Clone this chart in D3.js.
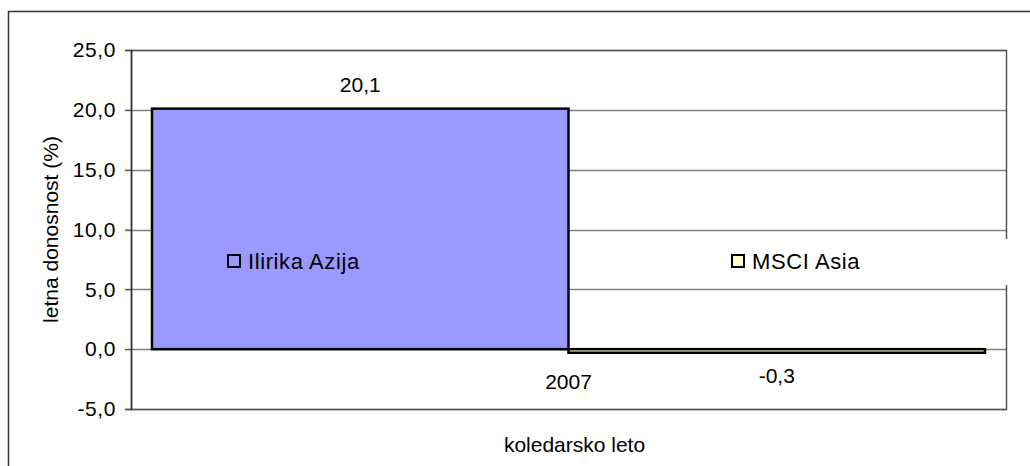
<!DOCTYPE html>
<html>
<head>
<meta charset="utf-8">
<script src="https://cdn.jsdelivr.net/npm/d3@7"></script>
<style>
  body { margin: 0; background: #fff; }
  text { font-family: "Liberation Sans", Arial, sans-serif; fill: #000; }
</style>
</head>
<body>
<svg id="chart" width="1030" height="466"></svg>
<script>
// data
const categories = ["2007"];
const seriesNames = ["Ilirika Azija", "MSCI Asia"];
const seriesValues = [20.1, -0.3];
const seriesColors = ["#9999ff", "#ffffcc"];
const yTicks = [-5, 0, 5, 10, 15, 20, 25];

let svg = d3.select("svg#chart");
let width = +svg.attr("width");
let height = +svg.attr("height");

// plot area
let plotLeft = 131, plotRight = 1006, plotTop = 50, plotBottom = 409;
let fontSize = 21;

let fmt = d => d3.format(".1f")(d).replace(".", ",").replace("−", "-");

// outer frame (cropped on right and bottom)
svg.append("path")
  .attr("d", `M8.5,${height} L8.5,11.5 L${width},11.5`)
  .attr("fill", "none")
  .attr("stroke", "#333")
  .attr("stroke-width", 1.5);

let y = d3.scaleLinear().domain([-5, 25]).range([plotBottom, plotTop]);

let x0 = d3.scaleBand()
  .domain(categories)
  .range([plotLeft, plotRight])
  .paddingInner(0.048)
  .paddingOuter(0.024);

let x1 = d3.scaleBand()
  .domain(seriesNames)
  .range([0, x0.bandwidth()]);

// gridlines
svg.append("g")
  .selectAll("line")
  .data(yTicks)
  .join("line")
  .attr("x1", plotLeft - 6)
  .attr("x2", plotRight)
  .attr("y1", d => Math.round(y(d)) + 0.5)
  .attr("y2", d => Math.round(y(d)) + 0.5)
  .attr("stroke", "#7f7f7f")
  .attr("stroke-width", 1.3);

// plot border
svg.append("rect")
  .attr("x", plotLeft + 0.5)
  .attr("y", Math.round(y(25)) + 0.5)
  .attr("width", plotRight - plotLeft)
  .attr("height", Math.round(y(-5)) - Math.round(y(25)))
  .attr("fill", "none")
  .attr("stroke", "#555")
  .attr("stroke-width", 1.5);

// y axis
let yAxis = svg.append("g")
  .attr("transform", `translate(${plotLeft},0)`)
  .call(d3.axisLeft(y).tickValues(yTicks).tickSize(6).tickPadding(9).tickFormat(fmt));
yAxis.select(".domain").attr("stroke", "#333").attr("stroke-width", 1.5);
yAxis.selectAll(".tick line").attr("stroke", "#555");
yAxis.selectAll("text")
  .style("font-family", "Liberation Sans, Arial, sans-serif")
  .style("font-size", fontSize + "px")
  .style("letter-spacing", "0.6px")
  .attr("fill", "#000");

// legend backing box
svg.append("rect")
  .attr("x", 700)
  .attr("y", 239)
  .attr("width", 320)
  .attr("height", 46)
  .attr("fill", "#fff");

// bars
let rows = seriesNames.map((s, i) => ({ cat: categories[0], name: s, value: seriesValues[i], color: seriesColors[i] }));

svg.append("g")
  .selectAll("rect")
  .data(rows)
  .join("rect")
  .attr("x", d => x0(d.cat) + x1(d.name))
  .attr("y", d => y(Math.max(0, d.value)))
  .attr("width", x1.bandwidth())
  .attr("height", d => Math.abs(y(d.value) - y(0)))
  .attr("fill", d => d.color)
  .attr("stroke", "#000")
  .attr("stroke-width", 2.5);

// data labels
svg.append("g")
  .selectAll("text")
  .data(rows)
  .join("text")
  .attr("x", d => x0(d.cat) + x1(d.name) + x1.bandwidth() / 2)
  .attr("y", d => d.value >= 0 ? y(d.value) - 17 : y(d.value) + 30)
  .attr("text-anchor", "middle")
  .style("font-size", fontSize + "px")
  .text(d => fmt(d.value));

// category label
svg.append("g")
  .selectAll("text")
  .data(categories)
  .join("text")
  .attr("x", d => x0(d) + x0.bandwidth() / 2)
  .attr("y", y(0) + 40)
  .attr("text-anchor", "middle")
  .style("font-size", fontSize + "px")
  .text(d => d);

// axis titles
svg.append("text")
  .attr("x", (plotLeft + plotRight) / 2 + 6)
  .attr("y", 452)
  .attr("text-anchor", "middle")
  .style("font-size", fontSize + "px")
  .text("koledarsko leto");

svg.append("text")
  .attr("transform", `translate(58,${(plotTop + plotBottom) / 2}) rotate(-90)`)
  .attr("text-anchor", "middle")
  .style("font-size", fontSize + "px")
  .text("letna donosnost (%)");

// legend entries
let legendX = [228, 732];
let legend = svg.append("g")
  .selectAll("g")
  .data(rows)
  .join("g")
  .attr("transform", (d, i) => `translate(${legendX[i]},255)`);
legend.append("rect")
  .attr("width", 12)
  .attr("height", 12)
  .attr("fill", d => d.color)
  .attr("stroke", "#000")
  .attr("stroke-width", 2);
legend.append("text")
  .attr("x", 20)
  .attr("y", 14)
  .style("font-size", "22px")
  .style("letter-spacing", "0.6px")
  .text(d => d.name);
</script>
</body>
</html>
